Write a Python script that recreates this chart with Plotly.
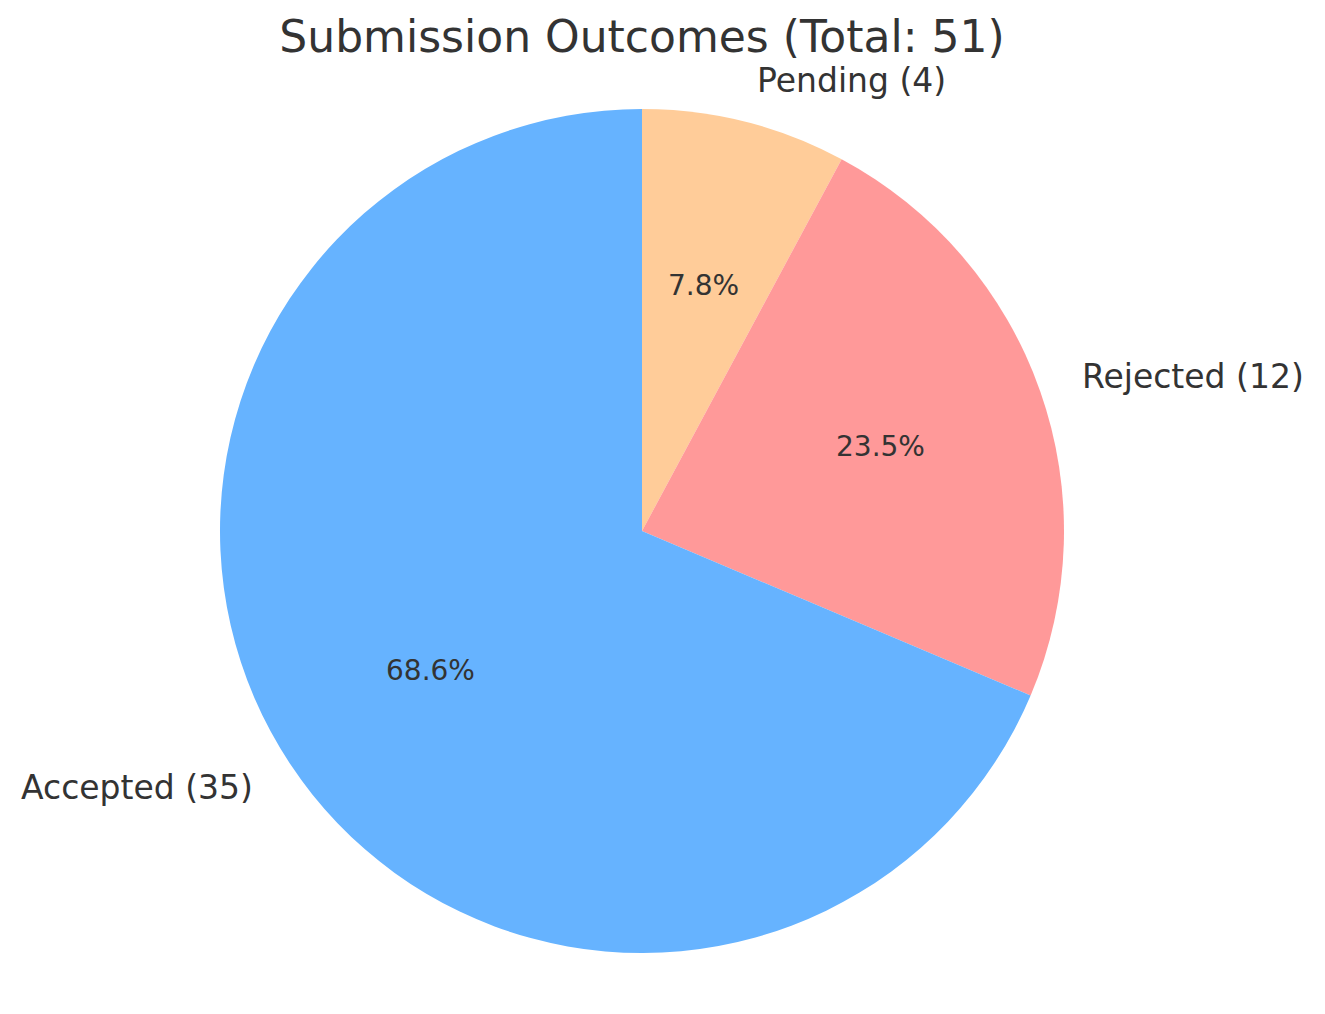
import math
import plotly.graph_objects as go

labels = ["Accepted", "Rejected", "Pending"]
counts = [35, 12, 4]
colors = ["#66b3ff", "#ff9999", "#ffcc99"]
title_text = "Submission Outcomes (Total: 51)"

# page body has an 8px margin, so work in coordinates shifted by 8px
OFF = 8
W, H = 1325 - OFF, 1014 - OFF
cx_px, cy_px, r_px = 642 - OFF, 531 - OFF, 422
TEXT = "#333333"
FONT = "DejaVu Sans"

fig = go.Figure()
fig.add_trace(go.Pie(
    labels=labels[::-1],
    values=counts[::-1],
    marker=dict(colors=colors[::-1], line=dict(width=0)),
    sort=False,
    direction="clockwise",
    rotation=0,
    textinfo="none",
    hoverinfo="label+value+percent",
    showlegend=False,
    domain=dict(x=[(cx_px - r_px) / W, (cx_px + r_px) / W],
                y=[(H - cy_px - r_px) / H, (H - cy_px + r_px) / H]),
))

total = sum(counts)
start = 90.0
annotations = []
for lab, c in zip(labels, counts):
    span = 360.0 * c / total
    mid = math.radians(start + span / 2)
    start += span
    lx = cx_px + 1.1 * r_px * math.cos(mid)
    ly = cy_px - 1.1 * r_px * math.sin(mid)
    annotations.append(dict(
        x=lx / W, y=1 - ly / H, xref="paper", yref="paper",
        text=f"{lab} ({c})", showarrow=False,
        xanchor="left" if math.cos(mid) > 0 else "right", yanchor="middle",
        font=dict(family=FONT, size=33, color=TEXT),
    ))
    px = cx_px + 0.6 * r_px * math.cos(mid)
    py = cy_px - 0.6 * r_px * math.sin(mid)
    annotations.append(dict(
        x=px / W, y=1 - py / H, xref="paper", yref="paper",
        text=f"{100 * c / total:.1f}%", showarrow=False,
        xanchor="center", yanchor="middle",
        font=dict(family=FONT, size=28, color=TEXT),
    ))

fig.update_layout(
    width=W, height=H,
    margin=dict(l=0, r=0, t=0, b=0),
    paper_bgcolor="white", plot_bgcolor="white",
    title=dict(text=title_text, x=cx_px / W, xanchor="center",
               y=1 - (37 - OFF) / H, yanchor="middle",
               font=dict(family=FONT, size=44, color=TEXT)),
    annotations=annotations,
)

fig.write_html("out.html")
